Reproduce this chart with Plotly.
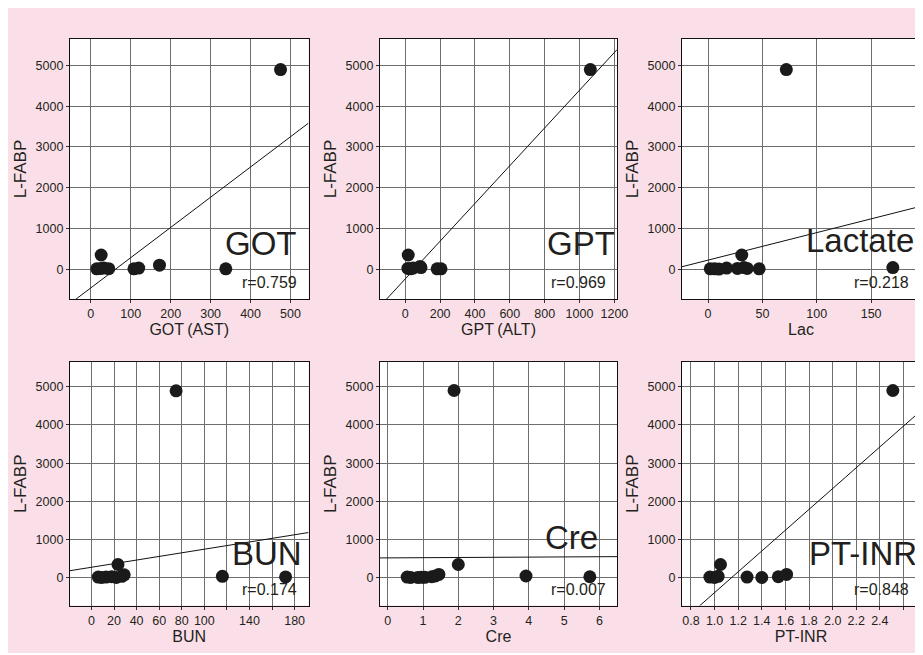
import plotly.graph_objects as go

# ---------------- data ----------------
got_x = [475, 26, 15, 25, 33, 45, 108, 120, 172, 338]
got_y = [4900, 350, 10, 20, 30, 15, 10, 30, 100, 10]

gpt_x = [1062, 17, 15, 30, 45, 85, 90, 183, 205]
gpt_y = [4900, 350, 20, 10, 30, 70, 40, 10, 10]

lac_x = [72, 31, 2, 6, 10, 17, 27, 33, 36, 47, 170]
lac_y = [4900, 350, 10, 10, 5, 30, 20, 40, 20, 10, 40]

bun_x = [75, 23.5, 6, 9, 13, 18, 22, 27, 29, 116, 172]
bun_y = [4890, 350, 20, 10, 20, 30, 10, 40, 80, 40, 25]

cre_x = [1.88, 2.0, 0.55, 0.65, 0.85, 0.95, 1.05, 1.25, 1.35, 1.45, 3.92, 5.73]
cre_y = [4900, 350, 20, 10, 10, 15, 15, 30, 50, 90, 50, 30]

inr_x = [2.51, 1.05, 0.96, 1.0, 1.03, 1.275, 1.40, 1.54, 1.61]
inr_y = [4900, 350, 20, 10, 40, 20, 10, 30, 90]

panel_names = ["GOT", "GPT", "Lactate", "BUN", "Cre", "PT-INR"]
x_titles = ["GOT\u2009(AST)", "GPT\u2009(ALT)", "Lac", "BUN", "Cre", "PT-INR"]
r_values = ["r=0.759", "r=0.969", "r=0.218", "r=0.174", "r=0.007", "r=0.848"]
slopes = [7.42, 4.63, 6.75, 4.72, 5.0, 2721]
intercepts = [-458, -236, 224, 278, 523, -3106]
y_title = "L-FABP"
y_ticks = [0, 1000, 2000, 3000, 4000, 5000]

x_tickvals = [
    [0, 100, 200, 300, 400, 500],
    [0, 200, 400, 600, 800, 1000, 1200],
    [0, 50, 100, 150],
    [0, 20, 40, 60, 80, 100, 120, 140, 160, 180],
    [0, 1, 2, 3, 4, 5, 6],
    [0.8, 1.0, 1.2, 1.4, 1.6, 1.8, 2.0, 2.2, 2.4, 2.6],
]
x_ticktext = [
    ["0", "100", "200", "300", "400", "500"],
    ["0", "200", "400", "600", "800", "1000", "1200"],
    ["0", "50", "100", "150"],
    ["0", "20", "40", "60", "80", "100", "", "140", "", "180"],
    ["0", "1", "2", "3", "4", "5", "6"],
    ["0.8", "1.0", "1.2", "1.4", "1.6", "1.8", "2.0", "2.2", "2.4", ""],
]

xs = [got_x, gpt_x, lac_x, bun_x, cre_x, inr_x]
ys = [got_y, gpt_y, lac_y, bun_y, cre_y, inr_y]

# ---------------- layout constants ----------------
W, H = 915, 645
OX, OY = 8, 8  # page body margin
x_ranges = [[-52, 545], [-145, 1215], [-24, 195], [-19, 192.3], [-0.22, 6.5], [0.724, 2.74]]
y_ranges = [[-730, 5650]] * 3 + [[-722, 5645]] * 3
col_px = [(70, 308.5), (380, 617), (682, 920)]
row_px = [(39, 299), (362, 605.5)]
big_label_shift = [-9, 0, -4, -4, -17, -1]
big_label_y = [0.215, 0.215, 0.225, 0.215, 0.28, 0.215]

FONT = "Liberation Sans, Arial, Noto Sans CJK JP, sans-serif"
TXT = "#231f20"
GRID = "#6e6e6e"

fig = go.Figure()

for i in range(6):
    r, c = divmod(i, 3)
    n = "" if i == 0 else str(i + 1)
    xa, ya = "x" + n, "y" + n
    x0p, x1p = col_px[c]
    y0p, y1p = row_px[r]
    xr = x_ranges[i]

    fig.add_trace(go.Scatter(
        x=[xr[0], xr[1]],
        y=[slopes[i] * xr[0] + intercepts[i], slopes[i] * xr[1] + intercepts[i]],
        mode="lines", line=dict(color="#111111", width=1),
        xaxis=xa, yaxis=ya, showlegend=False, hoverinfo="skip"))
    fig.add_trace(go.Scatter(
        x=xs[i], y=ys[i], mode="markers",
        marker=dict(color="#1a1a1a", size=13, line=dict(width=0)),
        xaxis=xa, yaxis=ya, showlegend=False, cliponaxis=False))

    axis_common = dict(showline=True, linecolor="#111111", linewidth=1.2, mirror=True,
                       showgrid=True, gridcolor=GRID, gridwidth=1, zeroline=False,
                       ticks="outside", ticklen=3, tickcolor="#333333",
                       tickfont=dict(family=FONT, size=12.5, color=TXT))
    fig.update_layout(**{
        ("xaxis" + n): dict(
            domain=[(x0p - OX) / W, min(1.0, (x1p - OX) / W)], range=xr, anchor=ya,
            tickmode="array", tickvals=x_tickvals[i], ticktext=x_ticktext[i],
            title=dict(text=x_titles[i], font=dict(family=FONT, size=16, color=TXT), standoff=3),
            automargin=False, **axis_common),
        ("yaxis" + n): dict(
            domain=[1 - (y1p - OY) / H, 1 - (y0p - OY) / H], range=y_ranges[i], anchor=xa,
            tickmode="array", tickvals=y_ticks,
            title=dict(text=y_title, font=dict(family=FONT, size=17, color=TXT), standoff=4),
            automargin=False, **axis_common),
    })

    fig.add_annotation(text=panel_names[i], xref=xa + " domain", yref=ya + " domain",
                       x=1, y=big_label_y[i], xanchor="right", yanchor="middle",
                       xshift=big_label_shift[i], showarrow=False,
                       font=dict(family=FONT, size=33, color=TXT))
    fig.add_annotation(text=r_values[i], xref=xa + " domain", yref=ya + " domain",
                       x=1, y=0, xanchor="right", yanchor="bottom",
                       xshift=-9, yshift=5.5, showarrow=False,
                       font=dict(family=FONT, size=16, color=TXT))

fig.update_layout(width=W, height=H, margin=dict(l=0, r=0, t=0, b=0),
                  paper_bgcolor="#fbdfe8", plot_bgcolor="white")

fig.write_html("out.html")
